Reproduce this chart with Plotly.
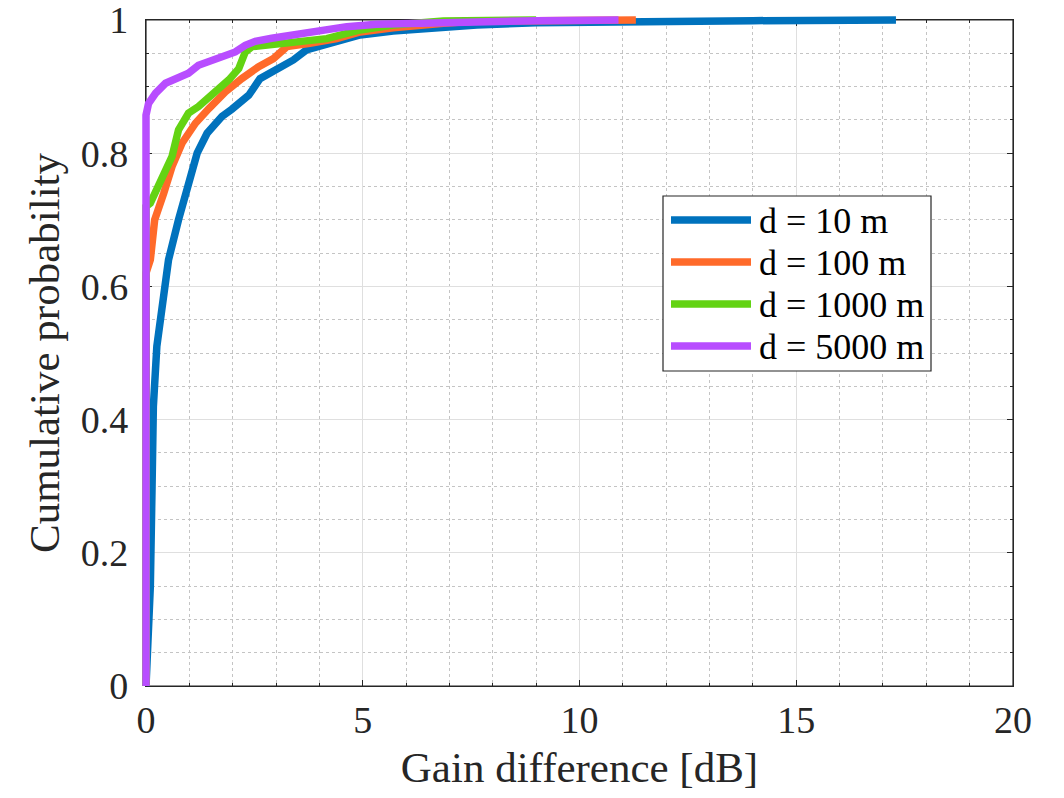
import plotly.graph_objects as go

# ---- data ----
names = ["d = 10 m", "d = 100 m", "d = 1000 m", "d = 5000 m"]
colors = ["#0072BD", "#FF6A2A", "#63D313", "#B84DFF"]

x_10 = [0, 0.04, 0.1, 0.14, 0.17, 0.25, 0.37, 0.52, 0.75, 0.98, 1.18, 1.41, 1.75,
        1.98, 2.37, 2.63, 3.09, 3.4, 3.7, 4.17, 4.55, 4.94, 5.7, 6.47, 7.63, 9.0,
        11.0, 14.0, 17.3]
y_10 = [0, 0.05, 0.15, 0.30, 0.42, 0.51, 0.57, 0.64, 0.70, 0.755, 0.80, 0.83, 0.855,
        0.866, 0.887, 0.912, 0.927, 0.94, 0.955, 0.9625, 0.97, 0.9775, 0.9835, 0.9875,
        0.9925, 0.996, 0.998, 0.999, 1.0]

x_100 = [0, 0, 0.1, 0.15, 0.2, 0.41, 0.6, 0.83, 1.14, 1.45, 1.83, 2.21, 2.6, 2.94,
         3.09, 3.25, 3.78, 4.4, 4.94, 5.7, 6.86, 7.63, 9.0, 11.3]
y_100 = [0, 0.62, 0.64, 0.68, 0.70, 0.74, 0.78, 0.815, 0.845, 0.867, 0.892, 0.912,
         0.93, 0.942, 0.95, 0.96, 0.965, 0.972, 0.982, 0.9885, 0.995, 0.9985, 0.999, 1.0]

x_1000 = [0, 0, 0.1, 0.37, 0.6, 0.75, 0.98, 1.21, 1.6, 1.91, 2.14, 2.29, 2.45, 2.9,
          3.4, 4.17, 4.94, 5.7, 6.86, 8.0, 9.0]
y_1000 = [0, 0.72, 0.725, 0.765, 0.795, 0.835, 0.86, 0.870, 0.892, 0.910, 0.927, 0.952,
          0.960, 0.9635, 0.967, 0.972, 0.985, 0.9925, 0.9985, 0.9995, 1.0]

x_5000 = [0, 0, 0.06, 0.22, 0.45, 0.68, 0.98, 1.21, 1.45, 1.75, 2.06, 2.29, 2.52, 2.9,
          3.4, 4.17, 4.63, 5.32, 6.09, 6.86, 9.0, 10.9]
y_5000 = [0, 0.857, 0.875, 0.890, 0.905, 0.912, 0.920, 0.932, 0.937, 0.945, 0.952,
          0.962, 0.968, 0.9725, 0.9775, 0.985, 0.99, 0.9935, 0.995, 0.9975, 0.999, 1.0]

xs = [x_10, x_100, x_1000, x_5000]
ys = [y_10, y_100, y_1000, y_5000]

x_ticks = [0, 5, 10, 15, 20]
y_ticks = [0, 0.2, 0.4, 0.6, 0.8, 1]
y_ticktext = ["0", "0.2", "0.4", "0.6", "0.8", "1"]

FONT = "Liberation Serif"
AX = "#262626"

# ---- geometry (pixels) ----
W, H = 1064, 798
OFF = 8                                 # page body margin of the written html
# wanted frame in the screenshot: left 146, right 1013, top 20, bottom 686
PAD = 10                                # data layer extends this far past the frame
ML = 146 - PAD - OFF
MT = 20 - PAD - OFF
MR = W - (1013 + PAD - OFF)
MB = H - (686 + PAD - OFF)
PW, PH = W - ML - MR, H - MT - MB
XMIN, XMAX, YMIN, YMAX = 0, 20, 0, 1
xpad = PAD * (XMAX - XMIN) / (PW - 2 * PAD)
ypad = PAD * (YMAX - YMIN) / (PH - 2 * PAD)

fig = go.Figure()
# anchor trace for the framed axes
fig.add_trace(go.Scatter(x=[], y=[], xaxis="x", yaxis="y", showlegend=False,
                         hoverinfo="skip"))
for n, c, x, y in zip(names, colors, xs, ys):
    fig.add_trace(go.Scatter(x=x, y=y, mode="lines", name=n, xaxis="x2", yaxis="y2",
                             line=dict(color=c, width=7.5), showlegend=False))

axis_common = dict(
    showline=True, linecolor=AX, linewidth=1.2, mirror="ticks",
    ticks="inside", ticklen=6, tickcolor=AX, tickwidth=1,
    showgrid=True, gridcolor="#DFDFDF", gridwidth=1,
    zeroline=False, automargin=False, ticklabeloverflow="allow",
    tickfont=dict(family=FONT, size=38, color=AX),
)

fig.update_layout(
    width=W, height=H,
    margin=dict(l=ML, r=MR, t=MT, b=MB),
    paper_bgcolor="white", plot_bgcolor="rgba(0,0,0,0)",
    font=dict(family=FONT, color="black"),
    showlegend=False,
    xaxis=dict(
        domain=[PAD / PW, 1 - PAD / PW], anchor="y",
        range=[XMIN, XMAX], tickvals=x_ticks, ticklabelstandoff=0,
        title=dict(text="Gain difference [dB]", font=dict(family=FONT, size=43, color=AX),
                   standoff=12),
        minor=dict(dtick=1, ticks="inside", ticklen=3, tickcolor=AX,
                   showgrid=True, gridcolor="#C4C4C4", griddash="dot", gridwidth=1),
        **axis_common,
    ),
    yaxis=dict(
        domain=[PAD / PH, 1 - PAD / PH], anchor="x",
        range=[YMIN, YMAX], tickvals=y_ticks, ticktext=y_ticktext, ticklabelstandoff=9,
        title=dict(text="Cumulative probability", font=dict(family=FONT, size=43, color=AX),
                   standoff=7),
        minor=dict(dtick=0.05, ticks="inside", ticklen=3, tickcolor=AX,
                   showgrid=True, gridcolor="#C4C4C4", griddash="dot", gridwidth=1),
        **axis_common,
    ),
    xaxis2=dict(domain=[0, 1], anchor="y2", range=[XMIN - xpad, XMAX + xpad],
                visible=False, fixedrange=True),
    yaxis2=dict(domain=[0, 1], anchor="x2", range=[YMIN - ypad, YMAX + ypad],
                visible=False, fixedrange=True),
)

# ---- legend box (screenshot pixels -> framed axes' domain fractions) ----
FW, FH = PW - 2 * PAD, PH - 2 * PAD
FL, FB = 146, 686                       # frame left / bottom in screenshot pixels


def fx(px):
    return (px - FL) / FW


def fy(py):
    return (FB - py) / FH


box = dict(l=663, r=931, t=196, b=371)
line_x0, line_x1, text_x = 671, 751, 757
row_y = [220, 262, 304, 346]

shapes = [
    # axes box (drawn beneath the curves, like the reference)
    dict(type="rect", xref="x domain", yref="y domain", x0=0, x1=1, y0=0, y1=1,
         line=dict(color=AX, width=1.2), fillcolor="rgba(0,0,0,0)", layer="below"),
    dict(type="rect", xref="x domain", yref="y domain",
         x0=fx(box["l"]), x1=fx(box["r"]), y0=fy(box["b"]), y1=fy(box["t"]),
         fillcolor="white", line=dict(color=AX, width=1.2), layer="above"),
]
annotations = []
for n, c, ry in zip(names, colors, row_y):
    shapes.append(dict(type="line", xref="x domain", yref="y domain",
                       x0=fx(line_x0), x1=fx(line_x1), y0=fy(ry), y1=fy(ry),
                       line=dict(color=c, width=7.5), layer="above"))
    annotations.append(dict(text=n, xref="x domain", yref="y domain",
                            x=fx(text_x), y=fy(ry + 1), xanchor="left", yanchor="middle",
                            showarrow=False, font=dict(family=FONT, size=36, color="black")))
fig.update_layout(shapes=shapes, annotations=annotations)

fig.write_html("out.html")
